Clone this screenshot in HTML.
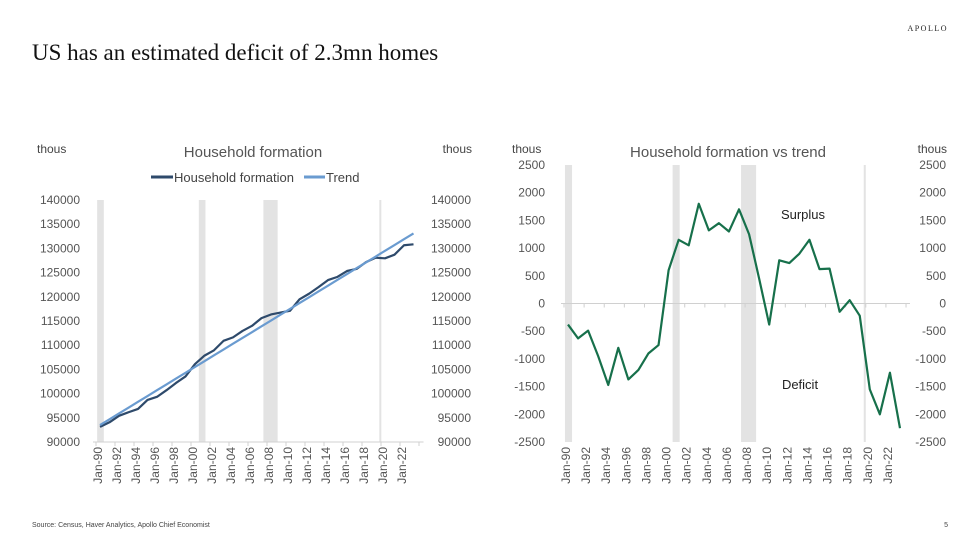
<!DOCTYPE html>
<html><head><meta charset="utf-8"><style>
body{margin:0;background:#fff;}
svg{display:block;font-family:"Liberation Sans",sans-serif;}
</style></head><body>
<svg width="979" height="548" viewBox="0 0 979 548">
<text x="32" y="60" font-family="Liberation Serif" font-size="23" fill="#111">US has an estimated deficit of 2.3mn homes</text>
<text x="948" y="31" font-family="Liberation Serif" font-size="8" letter-spacing="1.5" text-anchor="end" fill="#222">APOLLO</text>
<text x="32" y="527" font-size="7" fill="#444">Source: Census, Haver Analytics, Apollo Chief Economist</text>
<text x="948" y="527" font-size="7" fill="#444" text-anchor="end">5</text>
<g id="left"></g>
<g id="right"></g>
</svg>
<script>
const years=[1990,1991,1992,1993,1994,1995,1996,1997,1998,1999,2000,2001,2002,2003,2004,2005,2006,2007,2008,2009,2010,2011,2012,2013,2014,2015,2016,2017,2018,2019,2020,2021,2022,2023];
const household=[93120,94070,95410,96150,96830,98700,99330,100700,102200,103550,106100,107850,108950,110900,111620,112950,114000,115600,116350,116750,117120,119480,120630,122000,123450,124120,125330,125750,127160,128080,127950,128700,130650,130850];
const trend=[93500,94700,95900,97100,98300,99500,100700,101900,103100,104300,105500,106700,107900,109100,110300,111500,112700,113900,115100,116300,117500,118700,119900,121100,122300,123500,124700,125900,127100,128300,129500,130700,131900,133100];
const deviation=[-380,-630,-490,-950,-1470,-800,-1370,-1200,-900,-750,600,1150,1050,1800,1320,1450,1300,1700,1250,450,-380,780,730,900,1150,620,630,-150,60,-220,-1550,-2000,-1250,-2250];
const leftTicks=[90000,95000,100000,105000,110000,115000,120000,125000,130000,135000,140000];
const rightTicks=[-2500,-2000,-1500,-1000,-500,0,500,1000,1500,2000,2500];
const xLabels=['Jan-90','Jan-92','Jan-94','Jan-96','Jan-98','Jan-00','Jan-02','Jan-04','Jan-06','Jan-08','Jan-10','Jan-12','Jan-14','Jan-16','Jan-18','Jan-20','Jan-22'];
const recessions=[[1989.7,1990.4],[2000.4,2001.1],[2007.2,2008.7],[2019.4,2019.6]];
const NS='http://www.w3.org/2000/svg';
function mk(p,t,a){const e=document.createElementNS(NS,t);for(const k in a)e.setAttribute(k,a[k]);p.appendChild(e);return e;}
function chart(g,o){
  const xs=y=>o.x0+o.dx*(y-1990);
  const ys=v=>o.yb-(v-o.vmin)/(o.vmax-o.vmin)*(o.yb-o.yt);
  recessions.forEach(r=>{
    const w=Math.max(2,(r[1]-r[0])*o.dx);
    const e=mk(g,'rect',{x:xs(r[0]),y:o.yt,width:w,height:o.yb-o.yt,fill:'#e3e3e3'});
    
    
  });
  const ay=o.axisAt!==undefined?ys(o.axisAt):o.yb;
  const ax=mk(g,'line',{x1:o.x0-7,x2:xs(2023)+10,y1:ay,y2:ay,stroke:'#d0d0d0','stroke-width':1});
  
  
  for(let k=0;k<=17;k++){const tx=o.x0-4+o.dx*2*k;mk(g,'line',{x1:tx,x2:tx,y1:ay,y2:ay+4,stroke:'#d0d0d0'});}
  xLabels.forEach((l,i)=>{
    const tx=o.x0-2+o.dx*2*i+4, ty=o.yb+5;
    const t=mk(g,'text',{x:0,y:0,transform:`translate(${tx},${ty}) rotate(-90)`,'text-anchor':'end','font-size':12,fill:'#555'});
    t.textContent=l;
    
    
  });
  o.ticks.forEach(v=>{
    [[o.lx,'end'],[o.rx,'end']].forEach(p=>{
      const t=mk(g,'text',{x:p[0],y:ys(v)+4,'text-anchor':p[1],'font-size':12,fill:'#555'});
      t.textContent=v;
      
      
    });
  });
  o.series.forEach(s=>{
    const pl=mk(g,'polyline',{points:s.vals.map((v,i)=>xs(years[i])+','+ys(v)).join(' '),fill:'none',stroke:s.c,'stroke-width':s.w,'stroke-linejoin':'round'});
    
    
  });
}
const L=document.getElementById('left'),R=document.getElementById('right');
chart(L,{x0:100,dx:9.5,yt:200,yb:442,vmin:90000,vmax:140000,ticks:leftTicks,lx:80,rx:471,
  series:[{vals:household,c:'#2e4a6b',w:2.2,n:'household-line'},{vals:trend,c:'#6a9bd0',w:2.2,n:'trend-line'}]});
chart(R,{x0:568,dx:10.06,yt:165,yb:442,vmin:-2500,vmax:2500,axisAt:0,ticks:rightTicks,lx:545,rx:946,
  series:[{vals:deviation,c:'#17704b',w:2.2,n:'deviation-line'}]});
function txt(x,y,s,sz,anchor,name,fill){const t=mk(document.querySelector('svg'),'text',{x:x,y:y,'font-size':sz,'text-anchor':anchor||'start',fill:fill||'#444'});t.textContent=s;}
txt(37,153,'thous',12,'start','left-y-unit');
txt(472,153,'thous',12,'end','right-y-unit');
txt(253,157,'Household formation',15,'middle','left-chart-title','#555');
txt(512,153,'thous',12,'start','left-y-unit-2');
txt(947,153,'thous',12,'end','right-y-unit-2');
txt(728,157,'Household formation vs trend',15,'middle','right-chart-title','#555');
txt(803,219,'Surplus',13,'middle','surplus-label','#222');
txt(800,389,'Deficit',13,'middle','deficit-label','#222');
const svg=document.querySelector('svg');
const lg=mk(svg,'g',{});


mk(lg,'line',{x1:151,x2:173,y1:177,y2:177,stroke:'#2e4a6b','stroke-width':3});
mk(lg,'line',{x1:304,x2:325,y1:177,y2:177,stroke:'#6a9bd0','stroke-width':3});
const t1=mk(lg,'text',{x:174,y:182,'font-size':13,fill:'#444'});t1.textContent='Household formation';


const t2=mk(lg,'text',{x:326,y:182,'font-size':13,fill:'#444'});t2.textContent='Trend';


</script>
</body></html>
